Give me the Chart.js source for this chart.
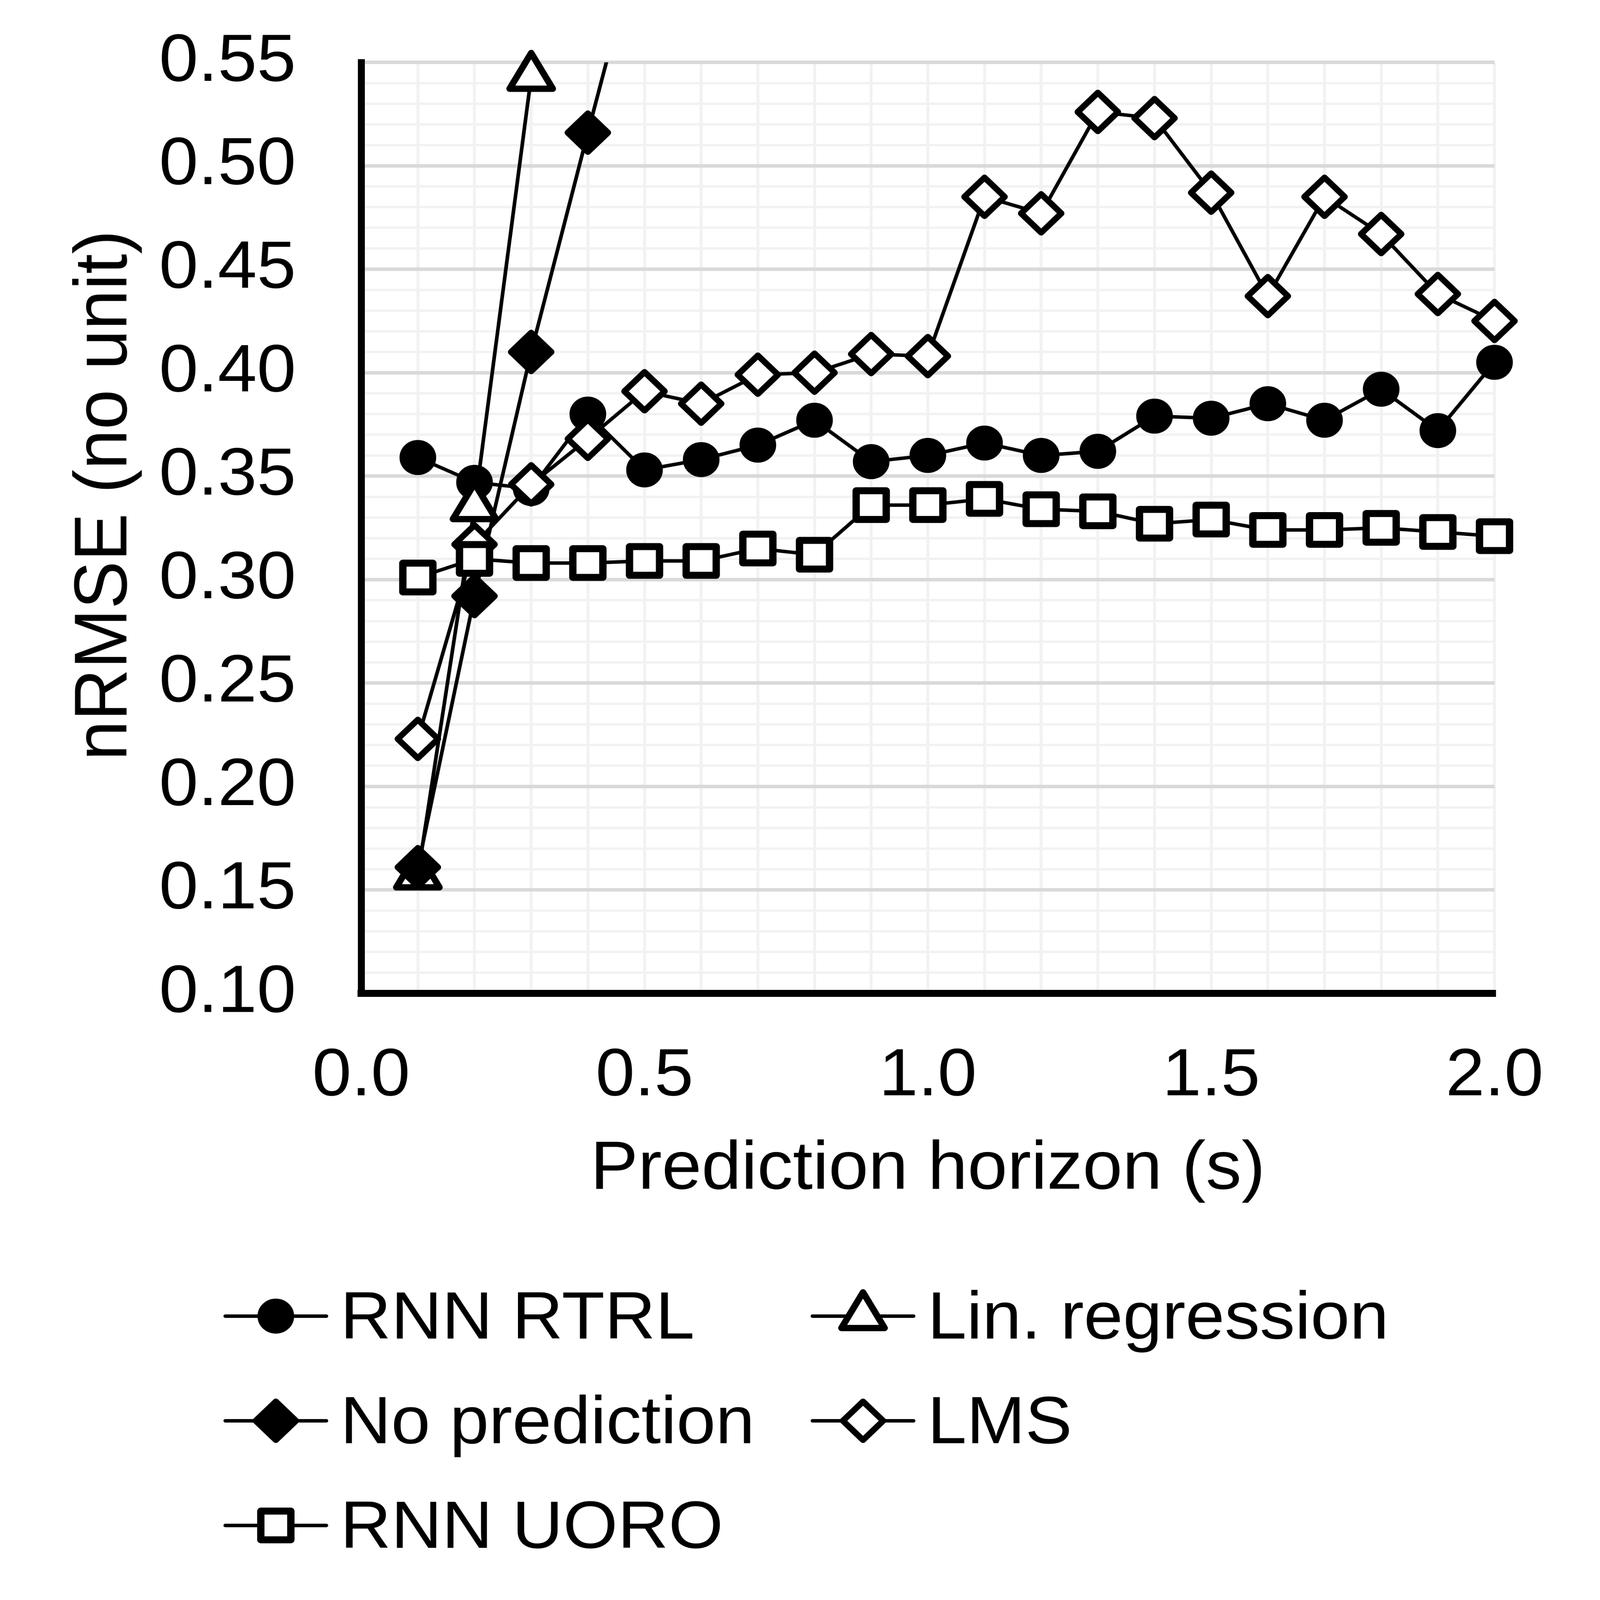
<!DOCTYPE html>
<html>
<head>
<meta charset="utf-8">
<script src="https://cdn.jsdelivr.net/npm/chart.js@4.4.1/dist/chart.umd.min.js"></script>
<style>
  html, body { margin: 0; padding: 0; background: #fff; overflow: hidden; }
  canvas { display: block; }
</style>
</head>
<body>
<canvas id="graph" width="4368" height="4571" style="width:100vw;height:100vh"></canvas>
<script>
// prediction horizon (s)
const horizon = [0.1, 0.2, 0.3, 0.4, 0.5, 0.6, 0.7, 0.8, 0.9, 1.0,
                 1.1, 1.2, 1.3, 1.4, 1.5, 1.6, 1.7, 1.8, 1.9, 2.0];

// nRMSE per method (series leave the plot above 0.55)
const rnnRtrl = [0.359, 0.347, 0.344, 0.380, 0.353, 0.358, 0.365, 0.377, 0.357, 0.360,
                 0.366, 0.360, 0.362, 0.379, 0.378, 0.385, 0.377, 0.392, 0.372, 0.405];
const linRegression = [0.157, 0.335, 0.543];
const noPrediction = [0.161, 0.292, 0.410, 0.516, 0.620];
const lms = [0.223, 0.317, 0.346, 0.368, 0.391, 0.385, 0.399, 0.400, 0.409, 0.408,
             0.485, 0.477, 0.526, 0.523, 0.487, 0.437, 0.485, 0.467, 0.438, 0.425];
const rnnUoro = [0.301, 0.310, 0.308, 0.308, 0.309, 0.309, 0.315, 0.312, 0.336, 0.336,
                 0.339, 0.334, 0.333, 0.327, 0.329, 0.324, 0.324, 0.325, 0.323, 0.321];

const names = ['RNN RTRL', 'Lin. regression', 'No prediction', 'LMS', 'RNN UORO'];
const series = [rnnRtrl, linRegression, noPrediction, lms, rnnUoro];

const pointStyles = ['circle', 'triangle', 'rectRot', 'rectRot', 'rect'];
const pointSizes = [45, 68, 55, 55, 58];
const pointBorders = [10, 18, 17, 17, 20];
const fills = ['#000', '#fff', '#000', '#fff', '#fff'];

const FONT = "'Liberation Sans', Arial, sans-serif";

function isMajorY(v) {
  return Math.abs(v * 20 - Math.round(v * 20)) < 1e-6;
}
function isMajorX(v) {
  return Math.abs(v * 2 - Math.round(v * 2)) < 1e-6;
}

const datasets = series.map((s, i) => ({
  label: names[i],
  data: s.map((v, j) => ({ x: horizon[j], y: v })),
  borderColor: '#000',
  borderWidth: 10,
  backgroundColor: fills[i],
  pointStyle: pointStyles[i],
  pointRadius: pointSizes[i],
  pointHoverRadius: pointSizes[i],
  pointBorderWidth: pointBorders[i],
  pointBackgroundColor: fills[i],
  pointBorderColor: '#000',
  tension: 0,
  order: series.length - i,
  clip: { left: 120, right: 120, bottom: 120, top: i === 1 ? 100 : 0 }
}));

// rounded marker corners like the original
const roundJoins = {
  id: 'roundJoins',
  beforeDatasetsDraw(chart) { chart.ctx.lineJoin = 'round'; },
  afterDatasetsDraw(chart) { chart.ctx.lineJoin = 'miter'; }
};

const titles = {
  id: 'titles',
  afterDraw(chart) {
    const ctx = chart.ctx;
    const area = chart.chartArea;
    ctx.save();
    ctx.fillStyle = '#000';
    ctx.textAlign = 'center';
    ctx.textBaseline = 'alphabetic';
    ctx.font = '195px ' + FONT;
    ctx.fillText('Prediction horizon (s)', (area.left + area.right) / 2, 3396);
    ctx.font = '205px ' + FONT;
    ctx.translate(345, 1415);
    ctx.rotate(-Math.PI / 2);
    ctx.fillText('nRMSE (no unit)', 0, 0);
    ctx.restore();
  }
};

const legendBox = {
  id: 'legendBox',
  afterDraw(chart) {
    const ctx = chart.ctx;
    chart.data.datasets.forEach((ds, i) => {
      const col = i % 2;
      const row = Math.floor(i / 2);
      const x0 = col === 0 ? 615 : 2218;
      const base = 3824 + row * 299;
      const y = base - 64;
      ctx.save();
      ctx.strokeStyle = '#000';
      ctx.lineWidth = 10;
      ctx.lineCap = 'round';
      ctx.beginPath();
      ctx.moveTo(x0, y);
      ctx.lineTo(x0 + 276, y);
      ctx.stroke();
      ctx.lineJoin = 'round';
      ctx.fillStyle = ds.pointBackgroundColor;
      ctx.lineWidth = ds.pointBorderWidth;
      Chart.helpers.drawPoint(ctx, {
        pointStyle: ds.pointStyle,
        radius: ds.pointRadius,
        borderWidth: ds.pointBorderWidth,
        rotation: 0
      }, x0 + 138, y);
      ctx.fillStyle = '#000';
      ctx.font = '192px ' + FONT;
      ctx.textAlign = 'left';
      ctx.textBaseline = 'alphabetic';
      ctx.fillText(ds.label, x0 + 314, base);
      ctx.restore();
    });
  }
};

const graph = new Chart(document.getElementById('graph'), {
  type: 'line',
  data: { datasets: datasets },
  plugins: [roundJoins, titles, legendBox],
  options: {
    responsive: false,
    animation: false,
    devicePixelRatio: 1,
    layout: { padding: { left: 0, top: 178, right: 288, bottom: 1300 } },
    plugins: {
      legend: { display: false },
      tooltip: { enabled: false }
    },
    scales: {
      x: {
        type: 'linear',
        min: 0,
        max: 2,
        afterFit: (s) => {
          s.height = 4571 - 2838 - 1300;
          s.paddingLeft = 0;
          s.paddingRight = 0;
        },
        ticks: {
          stepSize: 0.1,
          autoSkip: false,
          maxRotation: 0,
          padding: 123,
          color: '#000',
          font: { family: FONT, size: 192 },
          callback: (v) => isMajorX(v) ? v.toFixed(1) : ''
        },
        grid: {
          color: '#f2f2f2',
          lineWidth: 8,
          drawTicks: false
        },
        border: { display: true, color: '#000', width: 20 }
      },
      y: {
        min: 0.1,
        max: 0.55,
        afterFit: (s) => {
          s.width = 986;
          s.paddingTop = 0;
          s.paddingBottom = 0;
        },
        ticks: {
          stepSize: 0.01,
          maxTicksLimit: 100,
          autoSkip: false,
          padding: 178,
          color: '#000',
          font: { family: FONT, size: 192 },
          callback: (v) => isMajorY(v) ? v.toFixed(2) : ''
        },
        grid: {
          color: (c) => isMajorY(c.tick.value) ? '#d9d9d9' : '#f2f2f2',
          lineWidth: (c) => isMajorY(c.tick.value) ? 10 : 7,
          drawTicks: false
        },
        border: { display: true, color: '#000', width: 19 }
      }
    }
  }
});
</script>
</body>
</html>
